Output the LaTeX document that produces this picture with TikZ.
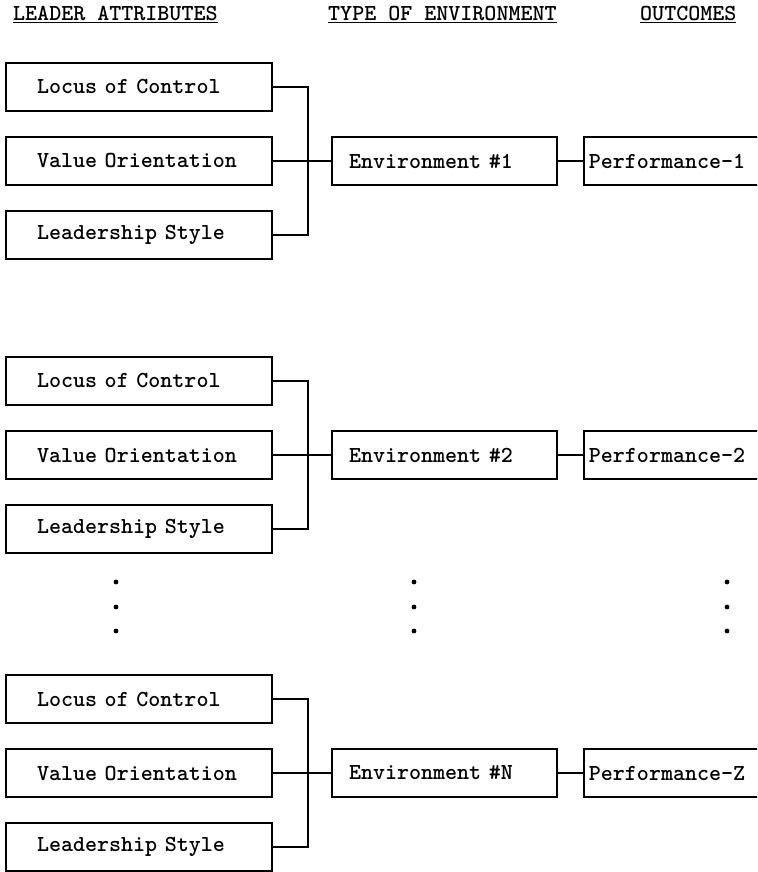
\documentclass[tikz,border=0pt]{standalone}
\usepackage{tikz}
\usepackage{xcolor}
\newcommand{\typefont}{\fontsize{22.9}{26}\selectfont\ttfamily\bfseries}
\tikzstyle{attr}=[draw, line width=1.8pt, minimum height=48pt, text width=204pt, align=left, inner xsep=31pt, inner ysep=0pt, font=\typefont]
\tikzstyle{envbox}=[draw, line width=1.8pt, minimum height=48pt, text width=191pt, align=left, inner xsep=17pt, inner ysep=0pt, font=\typefont]
\tikzstyle{perfbox}=[draw, line width=1.8pt, minimum height=48pt, text width=200pt, align=left, inner xsep=5pt, inner ysep=0pt, anchor=west, font=\typefont]
\tikzstyle{head}=[anchor=base west, inner sep=0pt, font=\typefont]
\tikzstyle{link}=[line width=1.8pt]
\newcommand{\attr}{\node[attr]}
\newcommand{\envnode}{\node[envbox]}

\begin{document}
\begin{tikzpicture}[x=1pt, y=-1pt]
\clip (0,0) rectangle (757,872);
\node[head] (hLead) at (13,21) {\underline{LEADER ATTRIBUTES}};
\node[head] (hEnv) at (328,21) {\underline{TYPE OF ENVIRONMENT}};
\node[head] (hOut) at (640,21) {\underline{OUTCOMES}};
\foreach \g/\y/\e/\p in {1/161/1/1, 2/455/2/2, 3/773/N/Z}{
	\attr (loc\g) at (139,\y-74) {Locus of Control};
	\attr (val\g) at (139,\y) {Value Orientation};
	\attr (lead\g) at (139,\y+74) {Leadership Style};
	\envnode (env\g) at (444.5,\y) {Environment \#\e};
	\node[perfbox] (perf\g) at (583,\y) {Performance-\p};
	\coordinate (bus\g) at (308,\y);
	\draw[link] (loc\g.east) -| (bus\g) |- (lead\g.east);
	\draw[link] (val\g.east) -- (env\g.west);
	\draw[link] (env\g.east) -- (perf\g.west);
	}
\foreach \x in {116,414,727}
	\foreach \yy in {582,607,631}
		\fill (\x,\yy) circle (2.4pt);
\end{tikzpicture}
\end{document}
